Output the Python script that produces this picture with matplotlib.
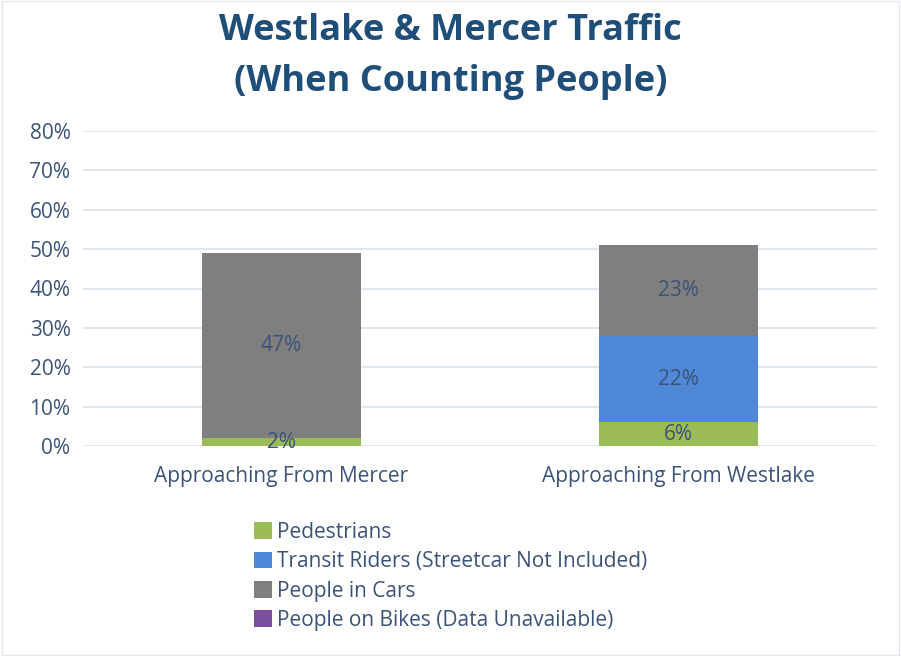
import numpy as np
import matplotlib.pyplot as plt
from matplotlib.patches import Patch

# DATA
categories = ["Approaching From Mercer", "Approaching From Westlake"]
series_names = ["Pedestrians", "Transit Riders (Streetcar Not Included)",
                "People in Cars", "People on Bikes (Data Unavailable)"]
pedestrians = [2, 6]
transit = [0, 22]
cars = [47, 23]
bikes = [0, 0]
yticks = [0, 10, 20, 30, 40, 50, 60, 70, 80]

colors = ["#9BBB59", "#4F88D6", "#7F7F7F", "#7A4FA0"]
textColor = "#3B5378"
titleColor = "#1F4E79"
fontSize = 15

plt.rcParams['font.family'] = ['Open Sans', 'DejaVu Sans']

fig = plt.figure(figsize=(9.01, 6.56), dpi=100, facecolor='w')
ax = fig.add_axes([83/901, 1 - 446/656, 794/901, (446 - 131)/656])

x = np.arange(len(categories))
width = 0.4
bottom = np.zeros(len(categories))
allSeries = [pedestrians, transit, cars, bikes]
for values, color, name in zip(allSeries, colors, series_names):
	values = np.array(values, dtype=float)
	ax.bar(x, values, width, bottom=bottom, color=color, label=name, zorder=2)
	for xi, v, b in zip(x, values, bottom):
		if v > 0:
			ax.text(xi, b + v/2, "%d%%" % v, ha='center', va='center',
				fontsize=fontSize, color=textColor, zorder=3)
	bottom += values

ax.set_xlim(-0.5, 1.5)
ax.set_ylim(0, 80)
ax.set_yticks(yticks)
ax.set_yticklabels(["%d%%" % t for t in yticks])
ax.set_xticks(x)
ax.set_xticklabels(categories)

for spine in ax.spines.values():
	spine.set_visible(False)
ax.tick_params(length=0, labelsize=fontSize, labelcolor=textColor)
ax.tick_params(axis='y', pad=9)
ax.tick_params(axis='x', pad=14.5)
ax.grid(axis='y', color='#D9E1EC', linewidth=1.2, zorder=0)
ax.set_axisbelow(True)

fig.suptitle("Westlake & Mercer Traffic\n(When Counting People)", y=1 - 13/656,
	va='top', fontsize=26, fontweight='bold', color=titleColor, linespacing=1.55)

handles = [Patch(facecolor=c, edgecolor='none') for c in colors]
fig.legend(handles, series_names, loc='upper left',
	bbox_to_anchor=(254/901, 1 - 522/656), frameon=False,
	fontsize=fontSize, labelcolor=textColor, handlelength=0.85, handleheight=0.85,
	handletextpad=0.25, labelspacing=0.4, borderaxespad=0, borderpad=0)

# thin frame like the screenshot
fig.patches.append(plt.Rectangle((0.002, 0.002), 0.996, 0.996, transform=fig.transFigure,
	fill=False, edgecolor='#E4E8EE', linewidth=1))

plt.savefig("out.png", dpi=100)
